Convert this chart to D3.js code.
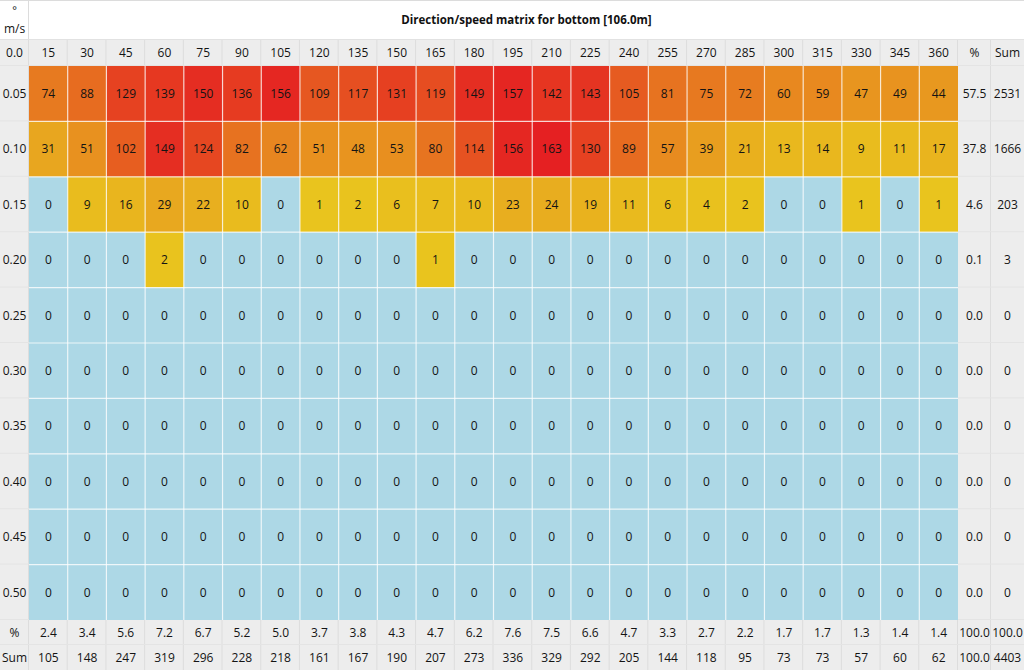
<!DOCTYPE html>
<html><head><meta charset="utf-8">
<script src="https://cdn.jsdelivr.net/npm/d3@7"></script>
<style>
html,body{margin:0;padding:0;background:#fff;}
svg{display:block;font-family:"Open Sans",sans-serif;}
</style></head>
<body>
<svg id="c" width="1024" height="670"></svg>
<script>
const title = "Direction/speed matrix for bottom [106.0m]";
const directions = ["15","30","45","60","75","90","105","120","135","150","165","180","195","210","225","240","255","270","285","300","315","330","345","360"];
const speeds = ["0.05","0.10","0.15","0.20","0.25","0.30","0.35","0.40","0.45","0.50"];
const row005 = [74,88,129,139,150,136,156,109,117,131,119,149,157,142,143,105,81,75,72,60,59,47,49,44];
const row010 = [31,51,102,149,124,82,62,51,48,53,80,114,156,163,130,89,57,39,21,13,14,9,11,17];
const row015 = [0,9,16,29,22,10,0,1,2,6,7,10,23,24,19,11,6,4,2,0,0,1,0,1];
const row020 = [0,0,0,2,0,0,0,0,0,0,1,0,0,0,0,0,0,0,0,0,0,0,0,0];
const row025 = [0,0,0,0,0,0,0,0,0,0,0,0,0,0,0,0,0,0,0,0,0,0,0,0];
const row030 = [0,0,0,0,0,0,0,0,0,0,0,0,0,0,0,0,0,0,0,0,0,0,0,0];
const row035 = [0,0,0,0,0,0,0,0,0,0,0,0,0,0,0,0,0,0,0,0,0,0,0,0];
const row040 = [0,0,0,0,0,0,0,0,0,0,0,0,0,0,0,0,0,0,0,0,0,0,0,0];
const row045 = [0,0,0,0,0,0,0,0,0,0,0,0,0,0,0,0,0,0,0,0,0,0,0,0];
const row050 = [0,0,0,0,0,0,0,0,0,0,0,0,0,0,0,0,0,0,0,0,0,0,0,0];
const rowPct = ["57.5","37.8","4.6","0.1","0.0","0.0","0.0","0.0","0.0","0.0"];
const rowSum = ["2531","1666","203","3","0","0","0","0","0","0"];
const colPct = ["2.4","3.4","5.6","7.2","6.7","5.2","5.0","3.7","3.8","4.3","4.7","6.2","7.6","7.5","6.6","4.7","3.3","2.7","2.2","1.7","1.7","1.3","1.4","1.4"];
const colSum = ["105","148","247","319","296","228","218","161","167","190","207","273","336","329","292","205","144","118","95","73","73","57","60","62"];
const pctCorner = ["100.0","100.0"];
const sumCorner = ["100.0","4403"];
const headerCorner = "0.0";
const extraCols = ["%","Sum"];
const unitTop = "°", unitBottom = "m/s";

const matrix = [row005,row010,row015,row020,row025,row030,row035,row040,row045,row050];

const svg = d3.select("#c");
const W = 1024, H = 670;
const leftW = 29, titleH = 40, headH = 26;
const x = d3.scaleBand().domain(directions).range([leftW, 958]);
const xe = d3.scaleBand().domain(extraCols).range([958, W]);
const y = d3.scaleBand().domain(speeds).range([titleH + headH, 620]);
const yf = d3.scaleBand().domain(["%","Sum"]).range([620, H]);
const maxV = d3.max(matrix.flat());
const color = d3.scaleLinear().domain([1, maxV]).range(["rgb(233,196,30)","rgb(229,32,34)"]).interpolate(d3.interpolateRgb);
const zeroColor = "#add8e6";
const gray = "#ededed";
const fs = "12px";
const txt = "#141414";

// backgrounds
svg.append("rect").attr("x",0).attr("y",0).attr("width",W).attr("height",H).attr("fill",gray);
svg.append("rect").attr("x",0).attr("y",0).attr("width",W).attr("height",titleH).attr("fill","#fff");
svg.append("line").attr("x1",0).attr("x2",W).attr("y1",0.5).attr("y2",0.5).attr("stroke","#dcdcdc");
svg.append("line").attr("x1",leftW-0.5).attr("x2",leftW-0.5).attr("y1",0).attr("y2",titleH).attr("stroke","#dcdcdc");
svg.append("line").attr("x1",0).attr("x2",W).attr("y1",titleH-0.5).attr("y2",titleH-0.5).attr("stroke","#e2e2e2");

// title
svg.append("text").attr("x",(leftW+W)/2).attr("y",titleH/2).attr("dy","0.35em")
  .attr("text-anchor","middle").attr("font-weight","bold").attr("font-size","11.5px").attr("fill","#111").text(title);
svg.append("text").attr("x",leftW/2).attr("y",10).attr("dy","0.35em").attr("text-anchor","middle").attr("font-size","11px").attr("fill",txt).text(unitTop);
svg.append("text").attr("x",leftW/2).attr("y",29).attr("dy","0.35em").attr("text-anchor","middle").attr("font-size",fs).attr("fill",txt).text(unitBottom);

// grid lines in gray areas
const allX = directions.map(d=>x(d)).concat(extraCols.map(d=>xe(d)));
svg.append("g").selectAll("line").data(allX).join("line")
  .attr("x1",d=>d-0.5).attr("x2",d=>d-0.5).attr("y1",titleH).attr("y2",H).attr("stroke","#dddddd");
const allY = speeds.map(s=>y(s)).concat(["%","Sum"].map(s=>yf(s)));
svg.append("g").selectAll("line").data(allY).join("line")
  .attr("x1",0).attr("x2",W).attr("y1",d=>d-0.5).attr("y2",d=>d-0.5).attr("stroke","#e4e4e4");

// header row
const hy = titleH + headH/2;
svg.append("text").attr("x",leftW/2).attr("y",hy).attr("dy","0.35em").attr("text-anchor","middle").attr("font-size",fs).attr("fill",txt).text(headerCorner);
svg.append("g").selectAll("text").data(directions).join("text")
  .attr("x",d=>x(d)+x.bandwidth()/2).attr("y",hy).attr("dy","0.35em").attr("text-anchor","middle").attr("font-size",fs).attr("fill",txt).text(d=>d);
svg.append("g").selectAll("text").data(extraCols).join("text")
  .attr("x",d=>xe(d)+xe.bandwidth()/2).attr("y",hy).attr("dy","0.35em").attr("text-anchor","middle").attr("font-size",fs).attr("fill",txt).text(d=>d);

// cells
const cells = [];
speeds.forEach((s,i)=>directions.forEach((d,j)=>cells.push({s,d,v:matrix[i][j]})));
svg.append("g").selectAll("rect").data(cells).join("rect")
  .attr("x",c=>x(c.d)).attr("y",c=>y(c.s)).attr("width",x.bandwidth()).attr("height",y.bandwidth())
  .attr("fill",c=>c.v===0?zeroColor:color(c.v));
// white separators
svg.append("g").selectAll("line").data(directions.slice(1)).join("line")
  .attr("x1",d=>x(d)).attr("x2",d=>x(d)).attr("y1",y.range()[0]).attr("y2",y.range()[1])
  .attr("stroke","#fff").attr("stroke-opacity",0.75).attr("stroke-width",1.2);
svg.append("g").selectAll("line").data(speeds.slice(1)).join("line")
  .attr("x1",x.range()[0]).attr("x2",x.range()[1]).attr("y1",s=>y(s)).attr("y2",s=>y(s))
  .attr("stroke","#fff").attr("stroke-opacity",0.75).attr("stroke-width",1.2);

svg.append("g").selectAll("text").data(cells).join("text")
  .attr("x",c=>x(c.d)+x.bandwidth()/2).attr("y",c=>y(c.s)+y.bandwidth()/2).attr("dy","0.35em")
  .attr("text-anchor","middle").attr("font-size",fs).attr("fill",txt).text(c=>c.v);

// row labels and row totals
svg.append("g").selectAll("text").data(speeds).join("text")
  .attr("x",leftW/2).attr("y",s=>y(s)+y.bandwidth()/2).attr("dy","0.35em").attr("text-anchor","middle").attr("font-size",fs).attr("fill",txt).text(s=>s);
svg.append("g").selectAll("text").data(speeds).join("text")
  .attr("x",xe("%")+xe.bandwidth()/2).attr("y",s=>y(s)+y.bandwidth()/2).attr("dy","0.35em").attr("text-anchor","middle").attr("font-size",fs).attr("fill",txt).text((s,i)=>rowPct[i]);
svg.append("g").selectAll("text").data(speeds).join("text")
  .attr("x",xe("Sum")+xe.bandwidth()/2).attr("y",s=>y(s)+y.bandwidth()/2).attr("dy","0.35em").attr("text-anchor","middle").attr("font-size",fs).attr("fill",txt).text((s,i)=>rowSum[i]);

// footer rows
const foot = [{k:"%",vals:colPct,corner:pctCorner},{k:"Sum",vals:colSum,corner:sumCorner}];
foot.forEach(f=>{
  const cy = yf(f.k)+yf.bandwidth()/2;
  svg.append("text").attr("x",leftW/2).attr("y",cy).attr("dy","0.35em").attr("text-anchor","middle").attr("font-size",fs).attr("fill",txt).text(f.k);
  svg.append("g").selectAll("text").data(directions).join("text")
    .attr("x",d=>x(d)+x.bandwidth()/2).attr("y",cy).attr("dy","0.35em").attr("text-anchor","middle").attr("font-size",fs).attr("fill",txt).text((d,j)=>f.vals[j]);
  svg.append("g").selectAll("text").data(extraCols).join("text")
    .attr("x",d=>xe(d)+xe.bandwidth()/2).attr("y",cy).attr("dy","0.35em").attr("text-anchor","middle").attr("font-size",fs).attr("fill",txt).text((d,j)=>f.corner[j]);
});
</script>
</body></html>
